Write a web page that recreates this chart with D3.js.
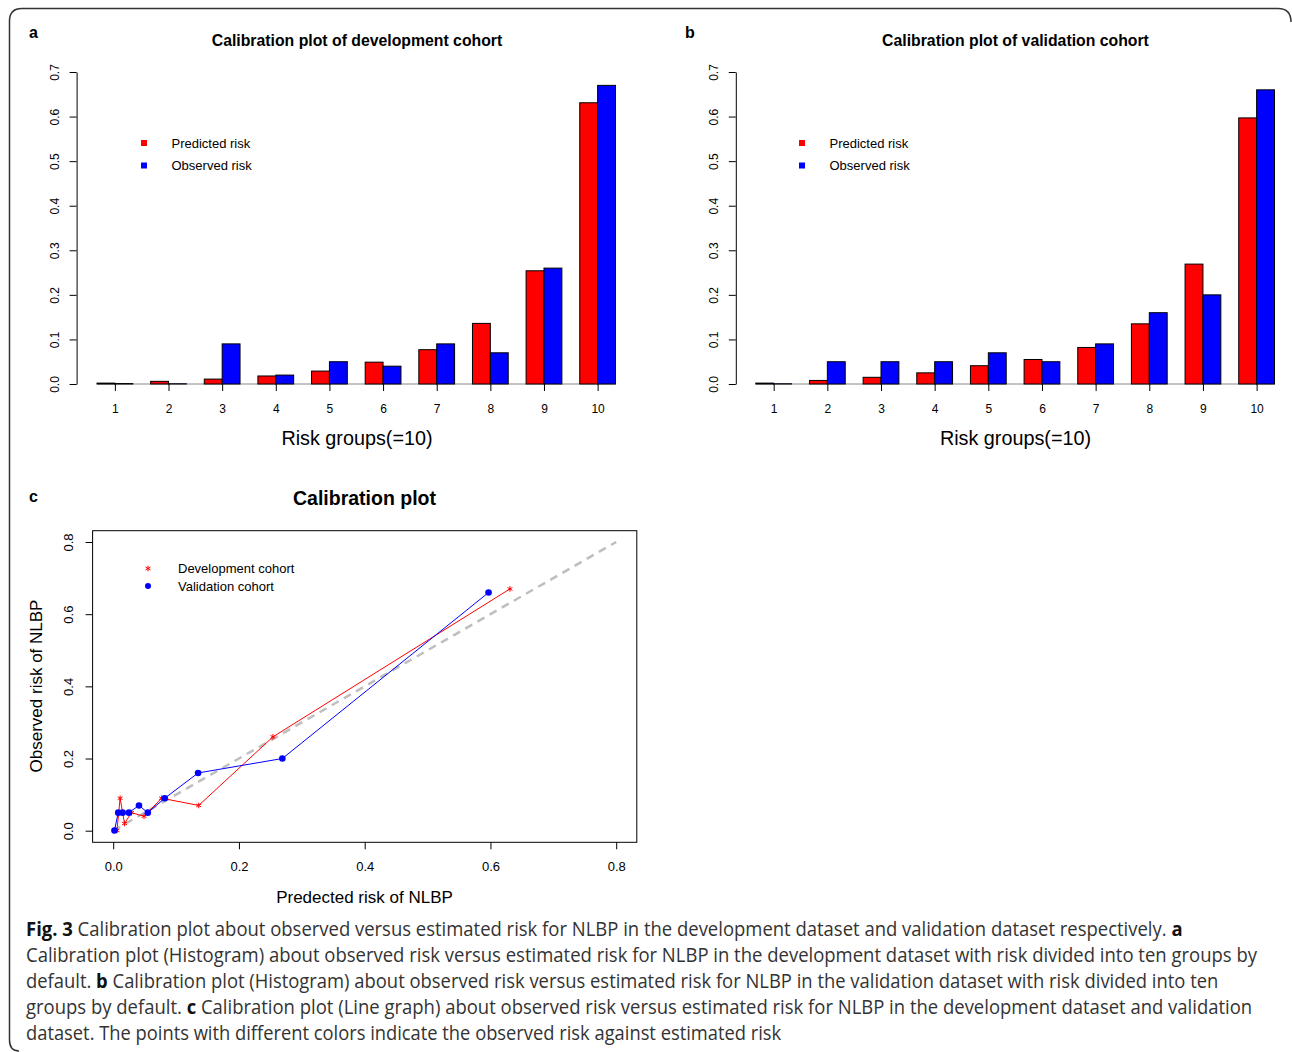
<!DOCTYPE html>
<html>
<head>
<meta charset="utf-8">
<title>Calibration plot</title>
<style>
	body { margin: 0; background: #fff; }
	svg text { font-family: "Liberation Sans", Arial, sans-serif; }
	.cap { font-family: "Open Sans", "Noto Sans", sans-serif; font-size: 19.5px; fill: #333; }
	.cap .b { font-weight: bold; fill: #111; }
</style>
</head>
<body onload="init()">
<svg width="1292" height="1052"></svg>
<script src="https://cdn.jsdelivr.net/npm/d3@7"></script>
<script>
// risk groups (x tick labels)
const groups = ["1", "2", "3", "4", "5", "6", "7", "8", "9", "10"]
const series = ["Predicted risk", "Observed risk"]
const colors = ["#ff0000", "#0000ff"]

// development cohort
const devPred = [0.002, 0.006, 0.011, 0.018, 0.029, 0.049, 0.077, 0.136, 0.254, 0.631]
const devObs  = [0.001, 0.0005, 0.09, 0.02, 0.05, 0.04, 0.09, 0.07, 0.26, 0.67]
// validation cohort
const valPred = [0.002, 0.008, 0.015, 0.025, 0.041, 0.055, 0.082, 0.135, 0.269, 0.597]
const valObs  = [0.0005, 0.05, 0.05, 0.05, 0.07, 0.05, 0.09, 0.16, 0.20, 0.66]

const barTicks = [0, 0.1, 0.2, 0.3, 0.4, 0.5, 0.6, 0.7]
const calTicks = [0, 0.2, 0.4, 0.6, 0.8]

const captionLines = [
	[["Fig. 3", 1], [" Calibration plot about observed versus estimated risk for NLBP in the development dataset and validation dataset respectively. ", 0], ["a", 1]],
	[["Calibration plot (Histogram) about observed risk versus estimated risk for NLBP in the development dataset with risk divided into ten groups by", 0]],
	[["default. ", 0], ["b", 1], [" Calibration plot (Histogram) about observed risk versus estimated risk for NLBP in the validation dataset with risk divided into ten", 0]],
	[["groups by default. ", 0], ["c", 1], [" Calibration plot (Line graph) about observed risk versus estimated risk for NLBP in the development dataset and validation", 0]],
	[["dataset. The points with different colors indicate the observed risk against estimated risk", 0]]
]
const captionWidths = [1157, 1231, 1193, 1227, 756]

function barPanel(svg, o) {
	let g = svg.append("g")

	let x0 = d3.scaleBand().domain(groups).range([o.left, o.right]).paddingInner(1/3).paddingOuter(0)
	let x1 = d3.scaleBand().domain([0, 1]).range([0, x0.bandwidth()])
	let y = d3.scaleLinear().domain([0, 0.7]).range([384, 72])

	//标签
	g.append("text").text(o.letter).attr("x", o.letterX).attr("y", 38)
		.attr("font-weight", "bold").attr("font-size", 16)
	//标题
	g.append("text").text(o.title).attr("x", o.titleX).attr("y", 45.5)
		.attr("text-anchor", "middle").attr("font-weight", "bold").attr("font-size", 15.8)

	//基线
	g.append("line").attr("x1", o.left).attr("x2", o.right).attr("y1", y(0)).attr("y2", y(0))
		.attr("stroke", "#888").attr("stroke-width", 1)

	//柱子
	let rows = groups.map((k, i) => ({ k: k, v: [o.pred[i], o.obs[i]] }))
	g.selectAll("g.grp").data(rows).join("g")
		.attr("transform", d => `translate(${x0(d.k)},0)`)
		.selectAll("rect").data(d => d.v).join("rect")
			.attr("x", (d, i) => x1(i)).attr("width", x1.bandwidth())
			.attr("y", d => y(d)).attr("height", d => y(0) - y(d))
			.attr("fill", (d, i) => colors[i])
			.attr("stroke", "#000").attr("stroke-width", 1)

	//x轴：只有刻度，没有横线
	let ax = g.append("g").attr("transform", `translate(0,${y(0)})`)
		.call(d3.axisBottom(d3.scalePoint().domain(groups).range([x0(groups[0]) + x0.bandwidth() / 2, x0(groups[9]) + x0.bandwidth() / 2]))
			.tickSize(7).tickPadding(13))
	ax.select(".domain").remove()
	ax.selectAll("text").attr("font-size", 12).attr("font-family", "Liberation Sans, Arial")

	g.append("text").text("Risk groups(=10)").attr("x", o.titleX).attr("y", 445)
		.attr("text-anchor", "middle").attr("font-size", 19.8)

	//y轴
	let ay = g.append("g").attr("transform", `translate(${o.axisX},0)`)
		.call(d3.axisLeft(y).tickValues(barTicks).tickFormat(d3.format(".1f")).tickSize(7).tickSizeOuter(0))
	ay.selectAll("text").remove()
	ay.selectAll(".tick").append("text")
		.text(d => d3.format(".1f")(d))
		.attr("transform", `translate(${-22},0) rotate(-90)`)
		.attr("text-anchor", "middle").attr("dy", "0.35em")
		.attr("fill", "#000").attr("font-size", 12).attr("font-family", "Liberation Sans, Arial")

	//图例
	let lg = g.append("g")
	series.forEach((s, i) => {
		lg.append("rect").attr("x", o.legX - 3).attr("y", 143 + i * 22.5 - 3).attr("width", 6).attr("height", 6).attr("fill", colors[i])
		lg.append("text").text(s).attr("x", o.legX + 27.5).attr("y", 143 + i * 22.5).attr("dy", "0.35em").attr("font-size", 13)
	})
}

function init() {
	//画布
	let svg = d3.select("svg")

	//外框
	svg.append("path")
		.attr("d", "M1291,22 Q1291,8.5 1278,8.5 L22,8.5 Q9.5,8.5 9.5,21 L9.5,1040 Q9.5,1051 19,1051")
		.attr("fill", "none").attr("stroke", "#333").attr("stroke-width", 1.5)

	//a 和 b：柱状图
	barPanel(svg, { letter: "a", letterX: 29, title: "Calibration plot of development cohort", titleX: 357,
		left: 97, right: 615.5, axisX: 76.6, legX: 144, pred: devPred, obs: devObs })
	barPanel(svg, { letter: "b", letterX: 685, title: "Calibration plot of validation cohort", titleX: 1015.5,
		left: 755.8, right: 1274.5, axisX: 735.8, legX: 802, pred: valPred, obs: valObs })

	//c：折线图
	let g = svg.append("g")
	let x = d3.scaleLinear().domain([0, 0.8]).range([113.2, 616.2])
	let y = d3.scaleLinear().domain([0, 0.8]).range([830.7, 542])

	g.append("text").text("c").attr("x", 29).attr("y", 502).attr("font-weight", "bold").attr("font-size", 16)
	g.append("text").text("Calibration plot").attr("x", 364.5).attr("y", 505)
		.attr("text-anchor", "middle").attr("font-weight", "bold").attr("font-size", 19.5)

	g.append("rect").attr("x", 92.6).attr("y", 530.7).attr("width", 544.2).attr("height", 311.6)
		.attr("fill", "none").attr("stroke", "#000").attr("stroke-width", 1)

	//对角线
	g.append("line").attr("x1", x(0)).attr("y1", y(0)).attr("x2", x(0.8)).attr("y2", y(0.8))
		.attr("stroke", "#bebebe").attr("stroke-width", 2.5).attr("stroke-dasharray", "8,6")

	let axb = g.append("g").attr("transform", "translate(0,842.3)")
		.call(d3.axisBottom(x).tickValues(calTicks).tickFormat(d3.format(".1f")).tickSize(7).tickPadding(12))
	axb.select(".domain").remove()
	axb.selectAll("text").attr("font-size", 13).attr("font-family", "Liberation Sans, Arial")

	let axl = g.append("g").attr("transform", "translate(92.6,0)")
		.call(d3.axisLeft(y).tickValues(calTicks).tickSize(7))
	axl.select(".domain").remove()
	axl.selectAll("text").remove()
	axl.selectAll(".tick").append("text")
		.text(d => d3.format(".1f")(d))
		.attr("transform", "translate(-24,0) rotate(-90)")
		.attr("text-anchor", "middle").attr("dy", "0.35em")
		.attr("fill", "#000").attr("font-size", 13).attr("font-family", "Liberation Sans, Arial")

	g.append("text").text("Predected risk of NLBP").attr("x", 364.5).attr("y", 903)
		.attr("text-anchor", "middle").attr("font-size", 17)
	g.append("text").text("Observed risk of NLBP")
		.attr("transform", "translate(42,686) rotate(-90)")
		.attr("text-anchor", "middle").attr("font-size", 17)

	let line = d3.line().x(d => x(d[0])).y(d => y(d[1]))
	let dev = devPred.map((p, i) => [p, devObs[i]])
	let val = valPred.map((p, i) => [p, valObs[i]])

	g.append("path").datum(dev).attr("d", line).attr("fill", "none").attr("stroke", "#ff0000").attr("stroke-width", 1)
	g.append("path").datum(val).attr("d", line).attr("fill", "none").attr("stroke", "#0000ff").attr("stroke-width", 1)

	let star = d3.symbol().type(d3.symbolAsterisk).size(22)
	g.selectAll("path.dev").data(dev).join("path").attr("class", "dev")
		.attr("transform", d => `translate(${x(d[0])},${y(d[1])})`)
		.attr("d", star).attr("fill", "none").attr("stroke", "#ff0000").attr("stroke-width", 1)
	g.selectAll("circle.val").data(val).join("circle").attr("class", "val")
		.attr("cx", d => x(d[0])).attr("cy", d => y(d[1])).attr("r", 3.3).attr("fill", "#0000ff")

	//图例
	g.append("path").attr("transform", "translate(148,568.5)").attr("d", star)
		.attr("fill", "none").attr("stroke", "#ff0000").attr("stroke-width", 1)
	g.append("circle").attr("cx", 148).attr("cy", 586).attr("r", 3).attr("fill", "#0000ff")
	g.append("text").text("Development cohort").attr("x", 178).attr("y", 568.5).attr("dy", "0.35em").attr("font-size", 13)
	g.append("text").text("Validation cohort").attr("x", 178).attr("y", 586.5).attr("dy", "0.35em").attr("font-size", 13)

	//图注：每行按原图宽度横向压缩
	let cap = svg.append("g")
	captionLines.forEach((ln, i) => {
		let t = cap.append("text").attr("class", "cap").attr("x", 0).attr("y", 0)
		ln.forEach(p => t.append("tspan").text(p[0]).attr("class", p[1] ? "b" : null))
		let w = t.node().getComputedTextLength()
		t.attr("transform", `translate(26,${935.5 + i * 26.2}) scale(${captionWidths[i] / w},1)`)
	})
}
</script>
</body>
</html>
